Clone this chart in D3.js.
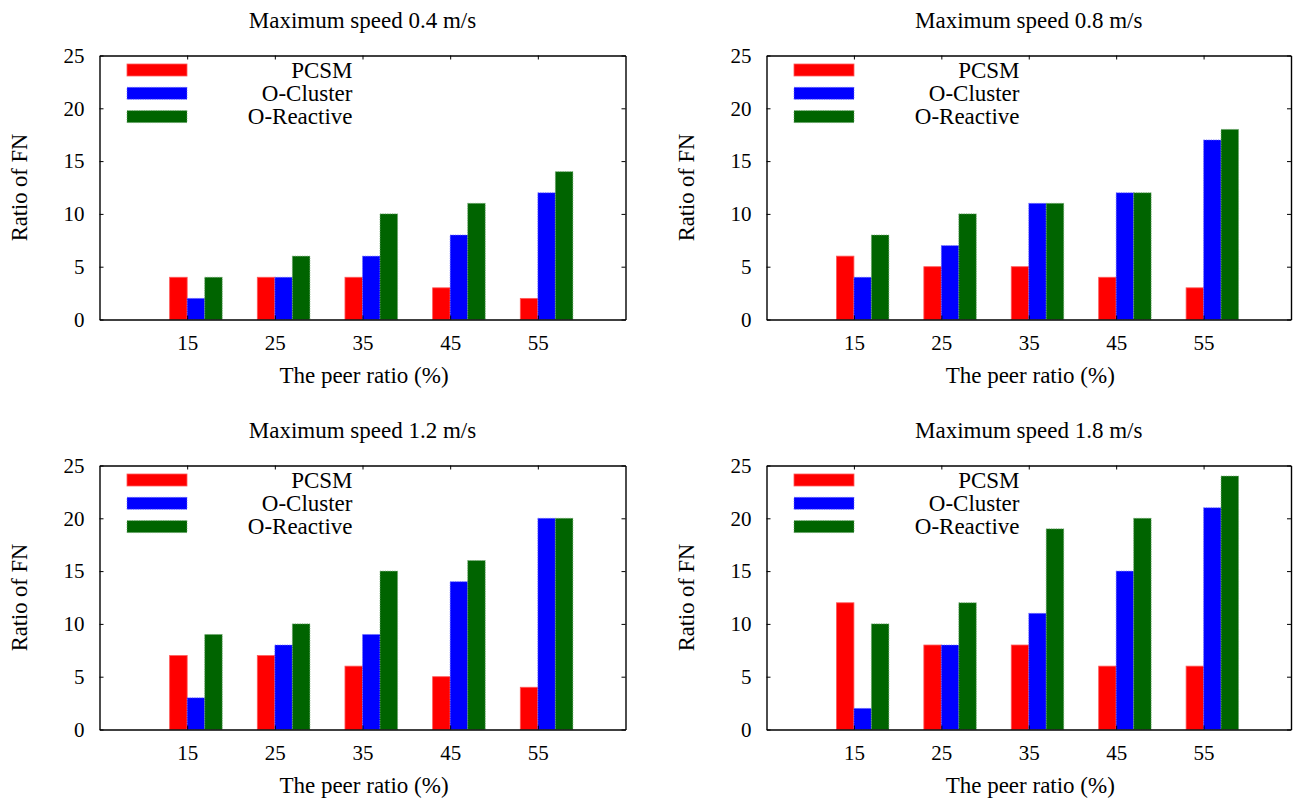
<!DOCTYPE html>
<html>
<head>
<meta charset="utf-8">
<script src="https://cdn.jsdelivr.net/npm/d3@7"></script>
<style>
  body { margin: 0; background: #fff; }
</style>
</head>
<body>
<svg id="chart" width="1294" height="800"></svg>
<script>
// Peer ratio groups on the x axis (%)
const peerRatios = [15, 25, 35, 45, 55];
const yTicks = [0, 5, 10, 15, 20, 25];
const speedTitles = [
  "Maximum speed 0.4 m/s",
  "Maximum speed 0.8 m/s",
  "Maximum speed 1.2 m/s",
  "Maximum speed 1.8 m/s"
];
const seriesNames = ["PCSM", "O-Cluster", "O-Reactive"];

// Ratio of FN per panel (one row per maximum speed)
const pcsmFN = [
  [4, 4, 4, 3, 2],
  [6, 5, 5, 4, 3],
  [7, 7, 6, 5, 4],
  [12, 8, 8, 6, 6]
];
const clusterFN = [
  [2, 4, 6, 8, 12],
  [4, 7, 11, 12, 17],
  [3, 8, 9, 14, 20],
  [2, 8, 11, 15, 21]
];
const reactiveFN = [
  [4, 6, 10, 11, 14],
  [8, 10, 11, 12, 18],
  [9, 10, 15, 16, 20],
  [10, 12, 19, 20, 24]
];

const seriesColors = ["#ff0000", "#0000ff", "#006400"];
const seriesEdges = ["#ff5a5a", "#6e6eff", "#6fa86f"];
const barOffsets = [-2, 0, 2];   // bar start relative to the group tick, in x units
const barWidthUnits = 2;

// Plot frames for the 2x2 grid
const frames = [
  { left: 99.5,  right: 625.5, top: 55.5,  bottom: 319.5 },
  { left: 766.5, right: 1291,  top: 55.5,  bottom: 319.5 },
  { left: 99.5,  right: 625.5, top: 465.5, bottom: 729.5 },
  { left: 766.5, right: 1291,  top: 465.5, bottom: 729.5 }
];

const SERIF = '"Liberation Serif"';
const svg = d3.select("#chart");
const FS_TICK = 21, FS_TITLE = 23, FS_LABEL = 23, FS_YLABEL = 22.5;

const font = size => sel => sel
  .style("font-family", SERIF)
  .style("font-size", size + "px")
  .style("fill", "#000");

frames.forEach((f, i) => {
  const g = svg.append("g");
  const x = d3.scaleLinear().domain([5, 65]).range([f.left, f.right]);
  const y = d3.scaleLinear().domain([0, 25]).range([f.bottom, f.top]);
  const panelValues = [pcsmFN[i], clusterFN[i], reactiveFN[i]];

  // Bars
  panelValues.forEach((vals, s) => {
    g.append("g").selectAll("rect").data(vals).join("rect")
      .attr("x", (d, k) => x(peerRatios[k] + barOffsets[s]))
      .attr("width", x(5 + barWidthUnits) - x(5))
      .attr("y", d => y(d))
      .attr("height", d => y(0) - y(d))
      .attr("fill", seriesColors[s])
      .attr("stroke", seriesEdges[s])
      .attr("stroke-width", 0.8)
      .attr("stroke-dasharray", s === 0 ? null : "1.2,1.2");
  });

  // Axes with inward ticks, mirrored on top and right
  const styleAxis = sel => {
    sel.select(".domain").attr("stroke", "#000").attr("stroke-width", 1.4);
    sel.selectAll(".tick line").attr("stroke", "#000").attr("stroke-width", 1);
    sel.selectAll(".tick text").call(font(FS_TICK));
  };

  g.append("g").attr("transform", `translate(0,${f.bottom})`)
    .call(d3.axisBottom(x).tickValues(peerRatios).tickSize(-4).tickSizeOuter(0).tickPadding(16))
    .call(styleAxis);
  g.append("g").attr("transform", `translate(0,${f.top})`)
    .call(d3.axisTop(x).tickValues(peerRatios).tickSize(-4).tickSizeOuter(0).tickFormat(""))
    .call(styleAxis);
  g.append("g").attr("transform", `translate(${f.left},0)`)
    .call(d3.axisLeft(y).tickValues(yTicks).tickSize(-4).tickSizeOuter(0).tickPadding(15))
    .call(styleAxis);
  g.append("g").attr("transform", `translate(${f.right},0)`)
    .call(d3.axisRight(y).tickValues(yTicks).tickSize(-4).tickSizeOuter(0).tickFormat(""))
    .call(styleAxis);

  const cx = (f.left + f.right) / 2;

  // Title
  g.append("text").attr("x", cx).attr("y", f.top - 27.5)
    .attr("text-anchor", "middle").call(font(FS_TITLE))
    .text(speedTitles[i]);

  // Axis labels
  g.append("text").attr("x", cx + 1.5).attr("y", f.bottom + 63.5)
    .attr("text-anchor", "middle").call(font(FS_LABEL))
    .text("The peer ratio (%)");
  g.append("text")
    .attr("transform", `translate(${f.left - 72.5},${(f.top + f.bottom) / 2}) rotate(-90)`)
    .attr("text-anchor", "middle").call(font(FS_YLABEL))
    .text("Ratio of FN");

  // Legend
  const legend = g.append("g");
  seriesNames.forEach((name, s) => {
    const ly = f.top + 8.5 + s * 23.3;
    legend.append("rect")
      .attr("x", f.left + 27.5).attr("y", ly)
      .attr("width", 60).attr("height", 12)
      .attr("fill", seriesColors[s])
      .attr("stroke", seriesEdges[s]).attr("stroke-width", 0.8)
      .attr("stroke-dasharray", s === 0 ? null : "1.2,1.2");
    legend.append("text")
      .attr("x", f.left + 253).attr("y", ly + 13.5)
      .attr("text-anchor", "end").call(font(FS_LABEL))
      .text(name);
  });
});
</script>
</body>
</html>
